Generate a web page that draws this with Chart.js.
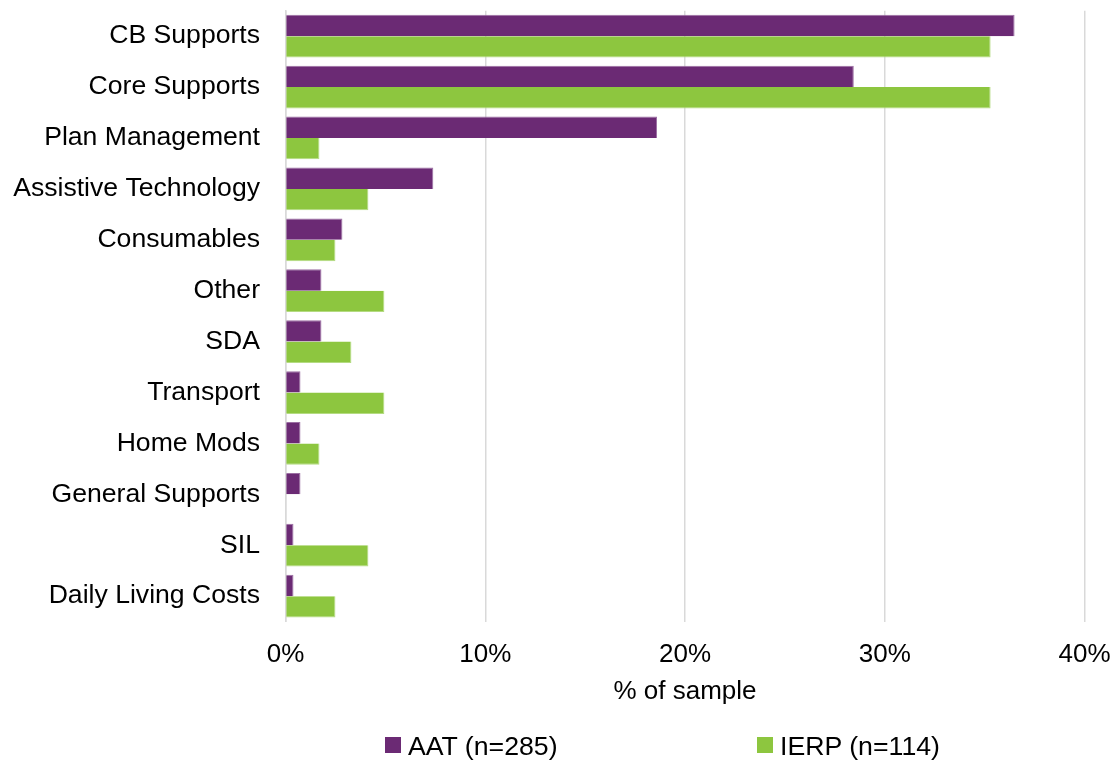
<!DOCTYPE html>
<html>
<head>
<meta charset="utf-8">
<script src="https://cdn.jsdelivr.net/npm/chart.js@4/dist/chart.umd.min.js"></script>
<style>
  html, body { margin: 0; padding: 0; background: #ffffff; }
  #wrap { position: relative; width: 1113px; height: 760px; overflow: hidden; }
  #legend { position: absolute; left: 0; top: 731px; width: 1113px; height: 30px;
    font-family: "Liberation Sans", Arial, sans-serif; font-size: 26.7px; color: #000; }
  .item { position: absolute; top: 0; height: 30px; line-height: 30px; white-space: nowrap; }
  .box { position: absolute; left: 0; top: 6px; width: 16px; height: 16px; }
  .txt { position: absolute; left: 23px; top: 0; }
</style>
</head>
<body>
<div id="wrap">
  <canvas id="c" width="1113" height="760"></canvas>
  <div id="legend"></div>
</div>
<script>
const categories = ["CB Supports", "Core Supports", "Plan Management", "Assistive Technology", "Consumables", "Other", "SDA", "Transport", "Home Mods", "General Supports", "SIL", "Daily Living Costs"];
const seriesNames = ["AAT (n=285)", "IERP (n=114)"];
const aatValues = [36.5, 28.45, 18.6, 7.4, 2.85, 1.8, 1.8, 0.75, 0.75, 0.75, 0.4, 0.4];
const ierpValues = [35.3, 35.3, 1.7, 4.15, 2.5, 4.95, 3.3, 4.95, 1.7, 0, 4.15, 2.5];
const xTicks = [0, 10, 20, 30, 40];
const axisTitle = "% of sample";
const colors = ["#6B2A74", "#8DC63F"];
const borderColors = ["#9C6FA3", "#B4DB82"];

const FONT = "'Liberation Sans', Arial, sans-serif";

const chart = new Chart(document.getElementById('c'), {
  type: 'bar',
  data: {
    labels: categories,
    datasets: [
      { label: seriesNames[0], data: aatValues, backgroundColor: colors[0], borderColor: borderColors[0],
        borderWidth: { top: 1, right: 1, bottom: 0, left: 0 }, borderSkipped: false },
      { label: seriesNames[1], data: ierpValues, backgroundColor: colors[1], borderColor: borderColors[1],
        borderWidth: { top: 0, right: 1, bottom: 1, left: 0 }, borderSkipped: false }
    ]
  },
  options: {
    indexAxis: 'y',
    responsive: false,
    animation: false,
    devicePixelRatio: 1,
    layout: { padding: { left: 13, top: 10.7, right: 28.5, bottom: 52.4 } },
    datasets: { bar: { categoryPercentage: 0.84, barPercentage: 1.0 } },
    plugins: {
      legend: { display: false },
      tooltip: { enabled: false }
    },
    scales: {
      x: {
        min: 0, max: 40,
        afterBuildTicks: (scale) => { scale.ticks = xTicks.map(v => ({ value: v })); },
        afterFit: (scale) => { scale.height = 86; scale.paddingLeft = 0; scale.paddingRight = 0; },
        ticks: {
          callback: (v) => v + '%',
          color: '#000', padding: 18,
          font: { family: FONT, size: 26 }
        },
        grid: { color: '#d9d9d9', lineWidth: 1.5, drawTicks: false },
        border: { display: false },
        title: { display: true, text: axisTitle, color: '#000', padding: { top: 0, bottom: 0 },
          font: { family: FONT, size: 26 } }
      },
      y: {
        afterFit: (scale) => { scale.width = 272.5; scale.paddingTop = 0; scale.paddingBottom = 0; },
        ticks: { color: '#000', padding: 25.5, font: { family: FONT, size: 26.6 } },
        grid: { display: false, drawTicks: false },
        border: { display: true, color: '#d9d9d9', width: 1.5 }
      }
    }
  }
});

// HTML legend built from the datasets
const lg = document.getElementById('legend');
const legendX = [385, 757];
chart.data.datasets.forEach((ds, i) => {
  const d = document.createElement('div');
  d.className = 'item';
  d.style.left = legendX[i] + 'px';
  const b = document.createElement('span');
  b.className = 'box';
  b.style.background = ds.backgroundColor;
  const t = document.createElement('span');
  t.className = 'txt';
  t.textContent = ds.label;
  d.appendChild(b);
  d.appendChild(t);
  lg.appendChild(d);
});
</script>
</body>
</html>
